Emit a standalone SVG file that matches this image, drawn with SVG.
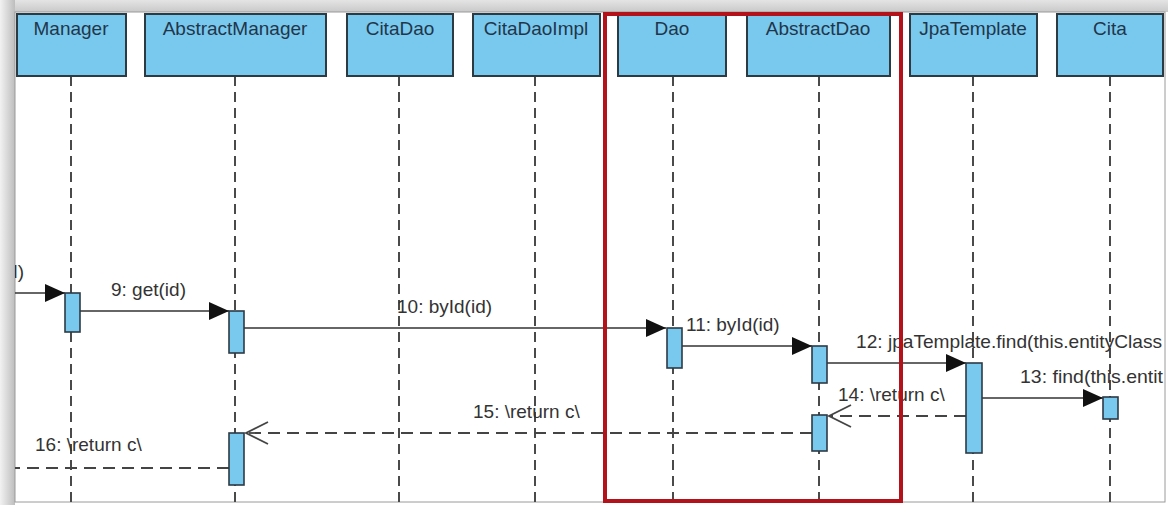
<svg xmlns="http://www.w3.org/2000/svg" width="1168" height="505" viewBox="0 0 1168 505">
  <defs>
    <style>
      .head rect { fill: #79c9ef; stroke: #2c3a44; stroke-width: 2; }
      .head text { font-family: "Liberation Sans", Arial, sans-serif; font-size: 19px; fill: #22364a; text-anchor: middle; }
      .life { stroke: #4a4a4a; stroke-width: 2; stroke-dasharray: 10 6; fill: none; }
      .act { fill: #79c9ef; stroke: #2c3a44; stroke-width: 1.6; }
      .call { stroke: #333; stroke-width: 1.6; fill: none; marker-end: url(#solid); }
      .ret { stroke: #444; stroke-width: 1.8; fill: none; stroke-dasharray: 12 7; }
      .open { stroke: #444; stroke-width: 1.8; fill: none; }
      .lbl { font-family: "Liberation Sans", Arial, sans-serif; font-size: 19px; fill: #333; }
    </style>
    <marker id="solid" viewBox="0 0 20 18" refX="20" refY="9" markerWidth="20" markerHeight="18" markerUnits="userSpaceOnUse" orient="auto">
      <path d="M0,0 L20,9 L0,18 Z" fill="#111"/>
    </marker>
    <linearGradient id="topShade" x1="0" y1="0" x2="0" y2="1">
      <stop offset="0" stop-color="#e4e4e4"/>
      <stop offset="1" stop-color="#c9c9c9"/>
    </linearGradient>
    <linearGradient id="leftShade" x1="0" y1="0" x2="1" y2="0">
      <stop offset="0" stop-color="#f2f2f2"/>
      <stop offset="1" stop-color="#bdbdbd"/>
    </linearGradient>
    <clipPath id="page">
      <rect x="15" y="12" width="1150" height="490"/>
    </clipPath>
  </defs>

  <!-- window frame -->
  <rect x="0" y="0" width="1168" height="505" fill="#ffffff"/>
  <rect x="0" y="0" width="1168" height="12" fill="url(#topShade)"/>
  <rect x="0" y="0" width="15" height="505" fill="url(#leftShade)"/>
  <rect x="15" y="12" width="1150" height="490" fill="#ffffff" stroke="#9a9a9a" stroke-width="1"/>

  <g clip-path="url(#page)">
    <!-- lifelines -->
    <g id="lifelines">
      <line class="life" x1="71" y1="76" x2="71" y2="502"/>
      <line class="life" x1="235" y1="76" x2="235" y2="502"/>
      <line class="life" x1="399" y1="76" x2="399" y2="502"/>
      <line class="life" x1="535" y1="76" x2="535" y2="502"/>
      <line class="life" x1="673" y1="76" x2="673" y2="502"/>
      <line class="life" x1="819" y1="76" x2="819" y2="502"/>
      <line class="life" x1="973" y1="76" x2="973" y2="502"/>
      <line class="life" x1="1110" y1="76" x2="1110" y2="502"/>
    </g>

    <!-- participants -->
    <g id="Manager" class="head"><rect x="17" y="14" width="109" height="62"/><text x="71" y="35">Manager</text></g>
    <g id="AbstractManager" class="head"><rect x="145" y="14" width="181" height="62"/><text x="235" y="35">AbstractManager</text></g>
    <g id="CitaDao" class="head"><rect x="347" y="14" width="106" height="62"/><text x="400" y="35">CitaDao</text></g>
    <g id="CitaDaoImpl" class="head"><rect x="473" y="14" width="127" height="62"/><text x="536" y="35">CitaDaoImpl</text></g>
    <g id="Dao" class="head"><rect x="618" y="14" width="108" height="62"/><text x="672" y="35">Dao</text></g>
    <g id="AbstractDao" class="head"><rect x="747" y="14" width="143" height="62"/><text x="818" y="35">AbstractDao</text></g>
    <g id="JpaTemplate" class="head"><rect x="910" y="14" width="127" height="62"/><text x="973" y="35">JpaTemplate</text></g>
    <g id="Cita" class="head"><rect x="1057" y="14" width="106" height="62"/><text x="1110" y="35">Cita</text></g>

    <!-- messages -->
    <g id="connectors">
      <line class="call" x1="15" y1="293" x2="65" y2="293"/>
      <text class="lbl" x="24" y="278" text-anchor="end">d)</text>

      <line class="call" x1="80" y1="311" x2="229" y2="311"/>
      <text class="lbl" x="111" y="296">9: get(id)</text>

      <line class="call" x1="244" y1="328" x2="666" y2="328"/>
      <text class="lbl" x="397" y="313">10: byId(id)</text>

      <line class="call" x1="682" y1="346" x2="812" y2="346"/>
      <text class="lbl" x="686" y="331">11: byId(id)</text>

      <line class="call" x1="827" y1="363" x2="966" y2="363"/>
      <text class="lbl" x="856" y="348" textLength="306" lengthAdjust="spacingAndGlyphs">12: jpaTemplate.find(this.entityClass</text>

      <line class="call" x1="982" y1="398" x2="1103" y2="398"/>
      <text class="lbl" x="1020" y="383" textLength="143" lengthAdjust="spacingAndGlyphs">13: find(this.entit</text>

      <line class="ret" x1="966" y1="416" x2="829" y2="416"/>
      <polyline class="open" points="851,405 829,416 851,427"/>
      <text class="lbl" x="838" y="401">14: \return c\</text>

      <line class="ret" x1="812" y1="433" x2="246" y2="433"/>
      <polyline class="open" points="268,422 246,433 268,444"/>
      <text class="lbl" x="473" y="418">15: \return c\</text>

      <line class="ret" x1="229" y1="468" x2="15" y2="468"/>
      <text class="lbl" x="35" y="451">16: \return c\</text>
    </g>

    <!-- activation bars -->
    <g id="activations">
      <rect class="act" x="65" y="293" width="15" height="39"/>
      <rect class="act" x="229" y="311" width="15" height="42"/>
      <rect class="act" x="229" y="433" width="15" height="52"/>
      <rect class="act" x="667" y="328" width="15" height="40"/>
      <rect class="act" x="812" y="346" width="15" height="37"/>
      <rect class="act" x="812" y="415" width="15" height="36"/>
      <rect class="act" x="966" y="363" width="16" height="90"/>
      <rect class="act" x="1103" y="397" width="15" height="22"/>
    </g>
  </g>

  <!-- highlight frame -->
  <rect id="highlight" x="605" y="14" width="296" height="487" fill="none" stroke="#b3121a" stroke-width="4"/>
</svg>
